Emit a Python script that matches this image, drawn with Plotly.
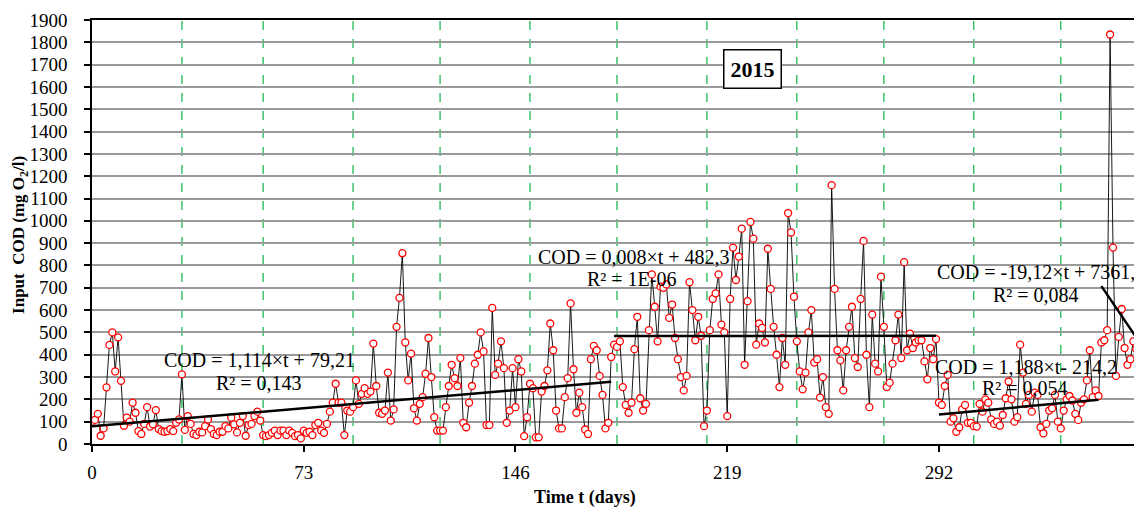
import plotly.graph_objects as go

# ---- data (Input COD, mg O2/l), day index 0..361 ----
cod_a = [100, 108, 135, 37, 70, 254, 444, 500, 325, 478, 283, 82, 118, 100, 185,
         140, 58, 45, 90, 165, 78, 88, 152, 67, 58, 55, 58, 67, 58, 95,
         110, 312, 63, 125, 90, 45, 40, 55, 52, 80, 110, 67, 45, 40, 55,
         55, 80, 70, 118, 88, 52, 95, 125, 37, 85, 90, 125, 145, 105, 40]
cod_b = [35, 40, 50, 60, 40, 60, 60, 40, 60, 50, 35, 40, 25, 60, 50,
         55, 40, 85, 95, 60, 50, 90, 145, 185, 270, 185, 185, 40, 150, 145,
         165, 285, 180, 225, 250, 225, 235, 450, 260, 140, 135, 150, 320, 105, 155,
         525, 655, 855, 455, 285, 405, 160, 105, 180, 210, 315, 475, 300, 120, 60]
cod_c = [60, 60, 165, 260, 355, 295, 260, 385, 95, 75, 185, 260, 360, 400, 500,
         415, 85, 85, 610, 310, 360, 460, 340, 95, 150, 340, 165, 380, 325, 35,
         120, 270, 250, 30, 30, 235, 260, 330, 540, 420, 150, 70, 70, 210, 295,
         630, 335, 140, 230, 165, 65, 45, 380, 440, 420, 305, 220, 70, 95, 390, 445]
cod_d = [435, 460, 255, 175, 140, 185, 425, 570, 205, 150, 180, 510, 760, 615, 460,
         705, 700, 715, 565, 625, 475, 380, 300, 240, 305, 725, 600, 465, 570, 485,
         80, 150, 510, 650, 675, 760, 535, 500, 125, 650, 880, 735, 840, 965, 355,
         640, 995, 920, 445, 540, 520, 455, 875, 695, 525, 400, 255, 475, 355, 1035]
cod_e = [948, 660, 460, 325, 245, 320, 500, 600, 365, 380, 208, 300, 165, 135, 1160,
         695, 420, 375, 240, 420, 525, 615, 385, 345, 650, 910, 400, 165, 580, 360,
         325, 750, 525, 255, 275, 360, 465, 580, 385, 815, 420, 495, 430, 455, 465,
         465, 370, 290, 430, 380, 470, 185, 175, 260, 310, 100, 115, 55, 75, 155, 175]
cod_f = [95, 95, 80, 78, 180, 145, 200, 185, 110, 90, 100, 82, 130, 205, 280,
         200, 100, 120, 445, 320, 180, 220, 145, 230, 220, 75, 48, 90, 150, 160,
         220, 100, 70, 150, 200, 215, 195, 135, 108, 185, 200, 285, 420, 210, 240,
         215, 455, 465, 510, 1835, 880, 305, 480, 605, 430, 355, 380, 460, 425, 650]

cod = cod_a + cod_b + cod_c + cod_d + cod_e + cod_f
days = list(range(len(cod)))

# trend lines: slope, intercept, start day, end day
trend_slopes = [1.114, 0.008, 1.188, -19.12]
trend_intercepts = [79.21, 482.3, -214.2, 7361]
trend_starts = [0, 180, 292, 348]
trend_ends = [179, 291, 347, 365]

# trend labels: text lines, anchor day, anchor value
label_texts = ["COD = 1,114×t + 79,21", "R² = 0,143",
               "COD = 0,008×t + 482,3", "R² = 1E-06",
               "COD = -19,12×t + 7361,", "R² = 0,084",
               "COD = 1,188×t- 214,2", "R² = 0,054"]
label_days = [57.6, 57.6, 186.7, 186.2, 325.3, 325.3, 321.9, 321.6]
label_vals = [376, 273, 838, 739, 771, 668, 345, 251]

month_bounds = [31, 59, 90, 120, 151, 181, 212, 243, 273, 304, 334]
x_ticks = [0, 73, 146, 219, 292]
x_last_tick = 365
y_ticks = list(range(0, 2000, 100))
year_label = "2015"
x_max = 362

FONT = "Liberation Serif"

fig = go.Figure()
fig.add_trace(go.Scatter(
    x=days, y=cod, mode="lines+markers",
    line=dict(color="black", width=0.9),
    marker=dict(symbol="circle", size=7, color="white",
                line=dict(color="#ff0000", width=1.3)),
    showlegend=False, hoverinfo="x+y"))

for s, b, t0, t1 in zip(trend_slopes, trend_intercepts, trend_starts, trend_ends):
    fig.add_trace(go.Scatter(
        x=[t0, t1], y=[s * t0 + b, s * t1 + b], mode="lines",
        line=dict(color="black", width=2.5), showlegend=False, hoverinfo="skip"))

for m in month_bounds:
    fig.add_shape(type="line", xref="x", yref="paper", x0=m, x1=m, y0=0, y1=1,
                  line=dict(color="#22b855", width=1.3, dash="dash"), layer="below")

for txt, d, v in zip(label_texts, label_days, label_vals):
    fig.add_annotation(x=d, y=v, xref="x", yref="y", text=txt, showarrow=False,
                       font=dict(family=FONT, size=20, color="black"),
                       xanchor="center", yanchor="middle")

fig.add_annotation(x=227.6, y=1680, xref="x", yref="y", text="<b>" + year_label + "</b>",
                   showarrow=False, font=dict(family=FONT, size=22, color="black"),
                   bordercolor="black", borderwidth=1.5, borderpad=6, bgcolor="white")

# partially visible last tick label (cut by the page edge)
fig.add_annotation(x=x_last_tick / x_max, y=-0.073, xref="paper", yref="paper",
                   text=str(x_last_tick), showarrow=False,
                   font=dict(family=FONT, size=19, color="black"),
                   xanchor="center", yanchor="middle")

# axis titles
fig.add_annotation(x=0.4695, y=-0.125, xref="paper", yref="paper",
                   text="<b>Time t (days)</b>", showarrow=False,
                   font=dict(family=FONT, size=18, color="black"),
                   xanchor="center", yanchor="middle")
fig.add_annotation(x=-0.0686, y=0.493, xref="paper", yref="paper",
                   text="<b>Input  COD (mg O<sub>2</sub>/l)</b>", showarrow=False,
                   textangle=-90, font=dict(family=FONT, size=17, color="black"),
                   xanchor="center", yanchor="middle")

# the page body adds an 8 px offset, so the figure is sized/margined to compensate
fig.update_layout(
    width=1134, height=505,
    margin=dict(l=84, r=0, t=12, b=69, autoexpand=False),
    paper_bgcolor="white", plot_bgcolor="white",
    font=dict(family=FONT, size=19, color="black"),
    xaxis=dict(
        range=[0, x_max], tickvals=x_ticks, ticks="outside", ticklen=6, tickwidth=1.5,
        tickcolor="black", showline=True, linecolor="black", linewidth=1.5, mirror=True,
        showgrid=False, zeroline=False, ticklabelstandoff=4, automargin=False,
    ),
    yaxis=dict(
        range=[0, 1900], tickvals=y_ticks, ticks="outside", ticklen=6, tickwidth=1.5,
        tickcolor="black", showline=True, linecolor="black", linewidth=1.5,
        showgrid=True, gridcolor="#9a9a9a", gridwidth=1.6, zeroline=False,
        ticklabelstandoff=13, automargin=False,
    ),
)

fig.write_html("out.html")
